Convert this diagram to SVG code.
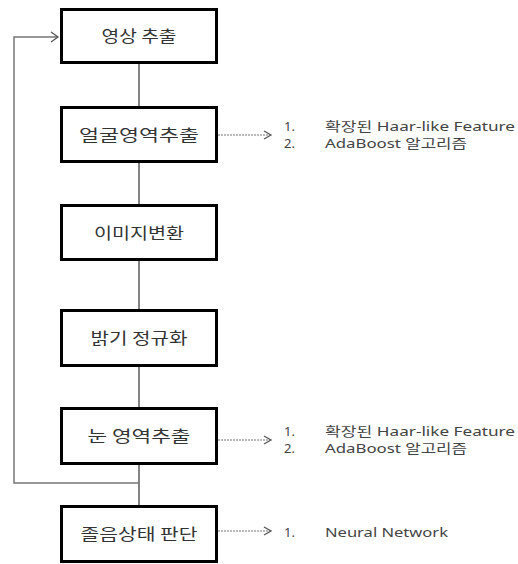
<svg xmlns="http://www.w3.org/2000/svg" width="518" height="564" viewBox="0 0 518 564">
<defs>
<style>
.box rect{fill:#fff;stroke:#000;stroke-width:3}
.box text{font-family:"Noto Sans CJK KR","Noto Sans",sans-serif;font-size:16px;fill:#333;text-anchor:middle}
.side{font-family:"Noto Sans","Noto Sans CJK KR",sans-serif;font-size:13px;fill:#444}
.flow{stroke:#333;stroke-width:1.2;fill:none}
.fb{stroke:#777;stroke-width:1.5;fill:none}
.dash{stroke:#777;stroke-width:1.2;stroke-dasharray:2 1;fill:none}
.head{stroke:#555;stroke-width:1.3;fill:none}
</style>
</defs>
<rect width="518" height="564" fill="#fff"/>
<g id="connectors">
<line class="flow" x1="139" y1="64" x2="139" y2="106"/>
<line class="flow" x1="139" y1="163" x2="139" y2="204"/>
<line class="flow" x1="139" y1="261" x2="139" y2="309"/>
<line class="flow" x1="139" y1="367" x2="139" y2="407"/>
<line class="flow" x1="139" y1="465" x2="139" y2="505"/>
<polyline class="fb" points="139,483 14,483 14,37 58,37"/>
<polyline class="head" points="51,32 58,37 51,42"/>
<line class="dash" x1="218" y1="135" x2="270" y2="135"/>
<polyline class="head" points="264,131 271,135 264,139"/>
<line class="dash" x1="218" y1="440" x2="270" y2="440"/>
<polyline class="head" points="264,436 271,440 264,444"/>
<line class="dash" x1="218" y1="531" x2="270" y2="531"/>
<polyline class="head" points="264,527 271,531 264,535"/>
</g>
<g id="n1" class="box"><rect x="61.5" y="9.5" width="155" height="53"/><text x="139" y="42" textLength="75" lengthAdjust="spacingAndGlyphs">영상 추출</text></g>
<g id="n2" class="box"><rect x="61.5" y="107.5" width="155" height="54"/><text x="139" y="141" textLength="120" lengthAdjust="spacingAndGlyphs">얼굴영역추출</text></g>
<g id="n3" class="box"><rect x="61.5" y="205.5" width="155" height="54"/><text x="139" y="239" textLength="90" lengthAdjust="spacingAndGlyphs">이미지변환</text></g>
<g id="n4" class="box"><rect x="61.5" y="310.5" width="155" height="55"/><text x="139" y="344" textLength="97" lengthAdjust="spacingAndGlyphs">밝기 정규화</text></g>
<g id="n5" class="box"><rect x="61.5" y="408.5" width="155" height="55"/><text x="139" y="442" textLength="103" lengthAdjust="spacingAndGlyphs">눈 영역추출</text></g>
<g id="n6" class="box"><rect x="61.5" y="506.5" width="155" height="55"/><text x="139" y="540" textLength="117" lengthAdjust="spacingAndGlyphs">졸음상태 판단</text></g>
<g id="note1">
<text class="side" x="284" y="131">1.</text>
<text class="side" x="325" y="131" textLength="190" lengthAdjust="spacingAndGlyphs">확장된 Haar-like Feature</text>
<text class="side" x="284" y="148">2.</text>
<text class="side" x="325" y="148" textLength="142" lengthAdjust="spacingAndGlyphs">AdaBoost 알고리즘</text>
</g>
<g id="note2">
<text class="side" x="284" y="436">1.</text>
<text class="side" x="325" y="436" textLength="190" lengthAdjust="spacingAndGlyphs">확장된 Haar-like Feature</text>
<text class="side" x="284" y="453">2.</text>
<text class="side" x="325" y="453" textLength="142" lengthAdjust="spacingAndGlyphs">AdaBoost 알고리즘</text>
</g>
<g id="note3">
<text class="side" x="284" y="537">1.</text>
<text class="side" x="325" y="537" textLength="123" lengthAdjust="spacingAndGlyphs">Neural Network</text>
</g>
</svg>
